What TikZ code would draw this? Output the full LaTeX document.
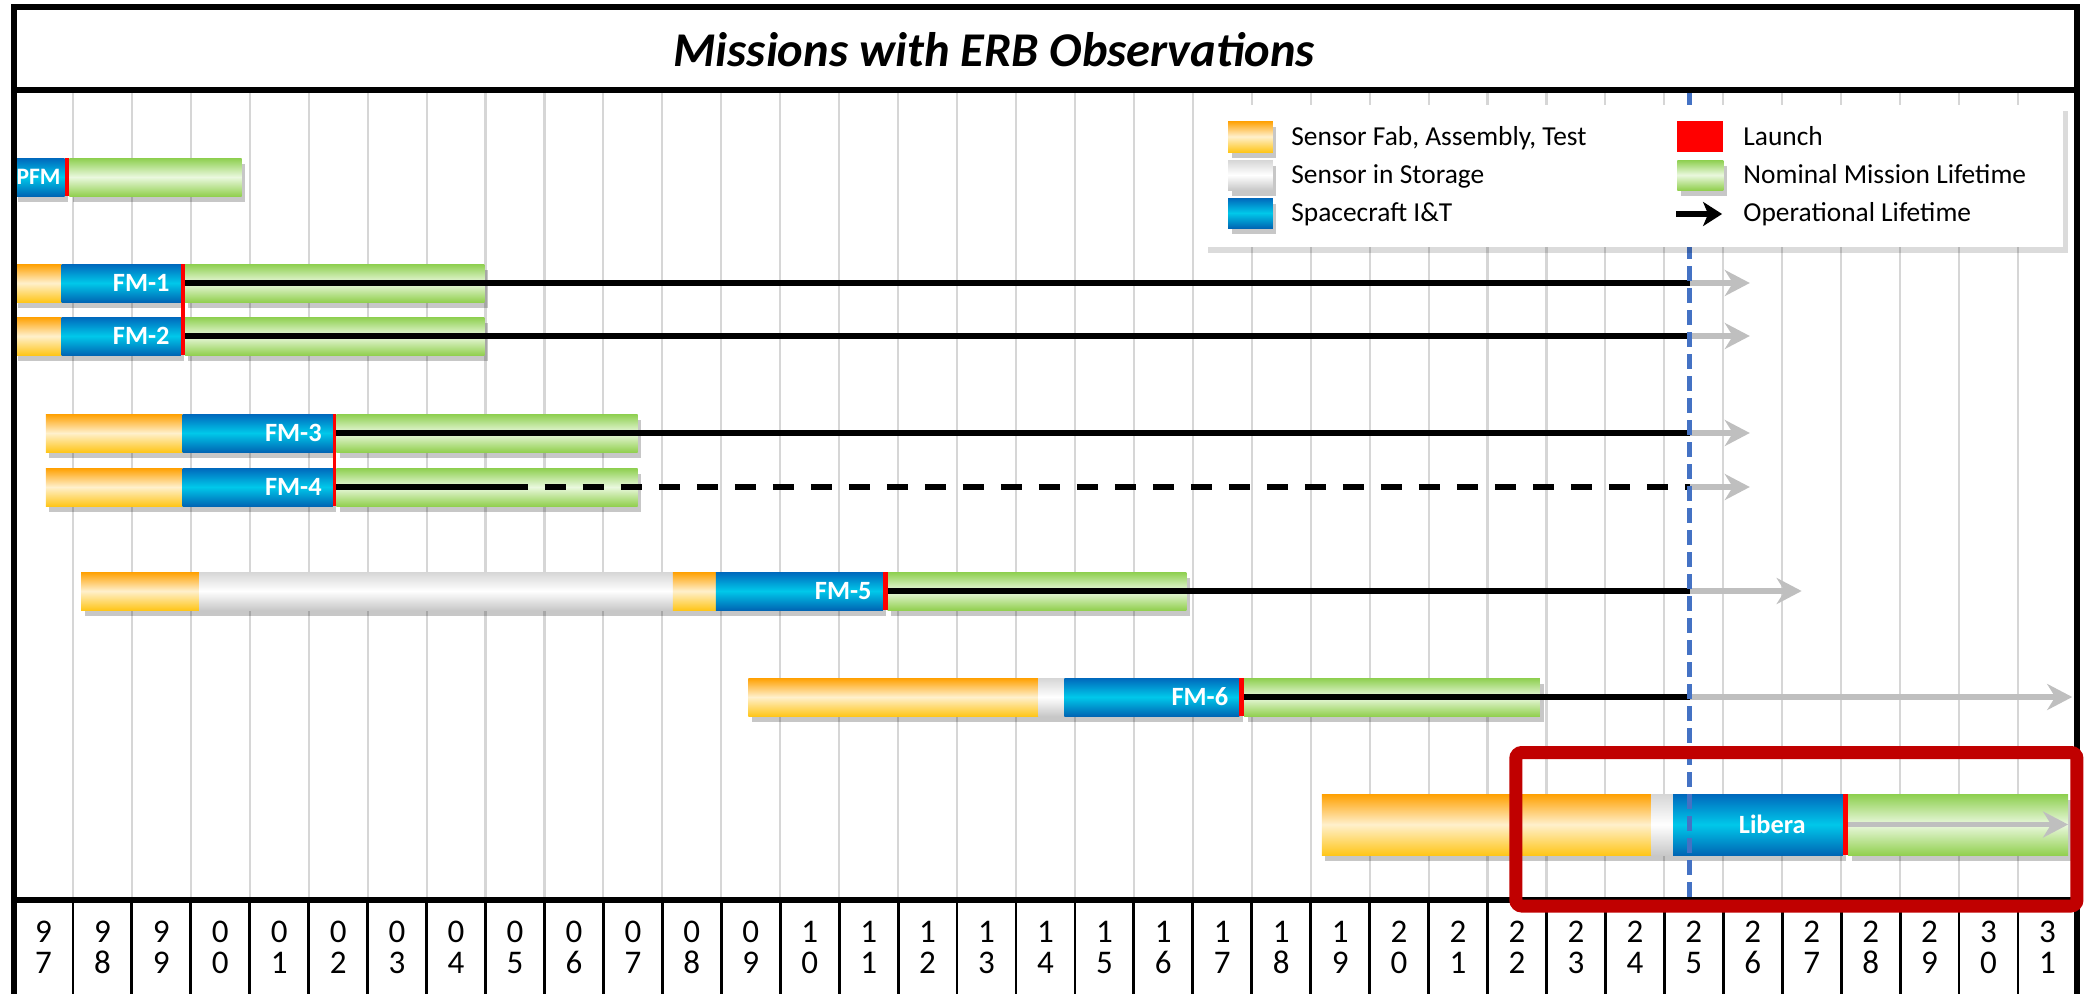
\documentclass[tikz,border=0pt]{standalone}
\usepackage{fontspec}
\setmainfont{Carlito}
\usetikzlibrary{arrows.meta,shadows}

\definecolor{fabtop}{HTML}{FFA000}
\definecolor{fabmid}{HTML}{FFF0CC}
\definecolor{fabbot}{HTML}{FFC61A}
\definecolor{stotop}{HTML}{D6D6D6}
\definecolor{stomid}{HTML}{FFFFFF}
\definecolor{stobot}{HTML}{C8C8C8}
\definecolor{sctop}{HTML}{0068BC}
\definecolor{scmid}{HTML}{00C8EA}
\definecolor{scbot}{HTML}{0066B4}
\definecolor{lftop}{HTML}{8DCF4E}
\definecolor{lfmid}{HTML}{EAF8DE}
\definecolor{lfbot}{HTML}{92D050}
\definecolor{launchred}{HTML}{FF0000}
\definecolor{gridgray}{HTML}{D6D6D6}
\definecolor{nowblue}{HTML}{4472C4}
\definecolor{boxred}{HTML}{C00000}
\definecolor{extgray}{HTML}{BFBFBF}

\tikzset{
  barshadow/.style={drop shadow={shadow xshift=1pt,shadow yshift=-1.6pt,opacity=0.22,fill=black}},
  fab/.style={top color=fabtop,bottom color=fabbot,middle color=fabmid,barshadow},
  store/.style={top color=stotop,bottom color=stobot,middle color=stomid,barshadow},
  sc/.style={top color=sctop,bottom color=scbot,middle color=scmid,barshadow},
  life/.style={top color=lftop,bottom color=lfbot,middle color=lfmid,barshadow},
  launch/.style={fill=launchred},
  oplife/.style={line width=1.6pt,black},
  opdash/.style={oplife,dash pattern=on 0.21cm off 0.17cm},
  opext/.style={line width=1.6pt,extgray,-{Stealth[length=0.25cm,width=0.26cm,inset=0.08cm]}},
  nowline/.style={line width=1.4pt,nowblue,dash pattern=on 0.15cm off 0.07cm},
  gridline/.style={gridgray,line width=0.6pt},
  frame/.style={line width=1.5pt,black},
  yearsep/.style={line width=0.8pt,black},
  hilite/.style={line width=3.7pt,boxred,rounded corners=0.06cm},
  legbox/.style={fill=white,drop shadow={shadow xshift=1.5pt,shadow yshift=-1.8pt,opacity=0.14,fill=black}},
  yearlab/.style={font=\fontsize{9.4}{8.8}\selectfont,align=center,inner sep=0pt},
  barlab/.style={font=\fontsize{7.5}{9}\selectfont\bfseries,text=white,anchor=east,inner sep=0pt,xshift=-3pt},
  legtext/.style={font=\fontsize{7.8}{9}\selectfont,anchor=base west,inner sep=0pt},
  titlelab/.style={font=\fontsize{13.8}{16}\selectfont\bfseries\itshape,inner sep=0pt}
}

\begin{document}
\begin{tikzpicture}[x=0.5894cm,y=-1cm]
  \useasboundingbox (-0.2375,0) rectangle (35.188,9.93);

  % year grid and year row
  \foreach \k in {1,...,34} {
    \draw[gridline] (\k,0.90) -- (\k,9.00);
    \draw[yearsep] (\k,9.00) -- (\k,10.00);
  }
  \foreach \k in {0,...,34} {
    \pgfmathtruncatemacro\yrnum{mod(97+\k,100)}
    \pgfmathtruncatemacro\yrhi{floor(\yrnum/10)}
    \pgfmathtruncatemacro\yrlo{mod(\yrnum,10)}
    \node[yearlab] (yr\k) at (\k+0.5,9.475) {\yrhi\\\yrlo};
  }

  \node[titlelab] (title) at (16.63,0.50) {Missions with ERB Observations};

  % PFM
  \path[sc] (0,1.58) rectangle (0.86,1.96);
  \path[life] (0.94,1.58) rectangle (3.86,1.96);
  \path[launch] (0.86,1.58) rectangle (0.94,1.96);
  \node[barlab,font=\fontsize{6.7}{8}\selectfont\bfseries,xshift=2pt] (pfmlab) at (0.86,1.77) {PFM};

  % FM-1 and FM-2
  \path[fab] (0,2.64) rectangle (0.81,3.02);
  \path[sc] (0.81,2.64) rectangle (2.83,3.02);
  \path[life] (2.90,2.64) rectangle (7.98,3.02);
  \path[fab] (0,3.17) rectangle (0.81,3.55);
  \path[sc] (0.81,3.17) rectangle (2.83,3.55);
  \path[life] (2.90,3.17) rectangle (7.98,3.55);
  \path[launch] (2.83,2.64) rectangle (2.90,3.55);
  \node[barlab] (fm1lab) at (2.83,2.83) {FM-1};
  \node[barlab] (fm2lab) at (2.83,3.36) {FM-2};

  % FM-3 and FM-4
  \path[fab] (0.54,4.14) rectangle (2.86,4.52);
  \path[sc] (2.86,4.14) rectangle (5.41,4.52);
  \path[life] (5.47,4.14) rectangle (10.58,4.52);
  \path[fab] (0.54,4.68) rectangle (2.86,5.06);
  \path[sc] (2.86,4.68) rectangle (5.41,5.06);
  \path[life] (5.47,4.68) rectangle (10.58,5.06);
  \path[launch] (5.41,4.14) rectangle (5.47,5.06);
  \node[barlab] (fm3lab) at (5.41,4.33) {FM-3};
  \node[barlab] (fm4lab) at (5.41,4.87) {FM-4};

  % FM-5
  \path[fab] (1.14,5.72) rectangle (3.14,6.10);
  \path[store] (3.14,5.72) rectangle (11.18,6.10);
  \path[fab] (11.18,5.72) rectangle (11.91,6.10);
  \path[sc] (11.91,5.72) rectangle (14.74,6.10);
  \path[life] (14.82,5.72) rectangle (19.89,6.10);
  \path[launch] (14.74,5.72) rectangle (14.82,6.10);
  \node[barlab] (fm5lab) at (14.74,5.91) {FM-5};

  % FM-6
  \path[fab] (12.46,6.78) rectangle (17.38,7.16);
  \path[store] (17.38,6.78) rectangle (17.82,7.16);
  \path[sc] (17.82,6.78) rectangle (20.79,7.16);
  \path[life] (20.87,6.78) rectangle (25.89,7.16);
  \path[launch] (20.79,6.78) rectangle (20.87,7.16);
  \node[barlab] (fm6lab) at (20.79,6.97) {FM-6};

  % Libera
  \path[fab] (22.19,7.94) rectangle (27.78,8.55);
  \path[store] (27.78,7.94) rectangle (28.15,8.55);
  \path[sc] (28.15,7.94) rectangle (31.03,8.55);
  \path[life] (31.12,7.94) rectangle (34.85,8.55);
  \path[launch] (31.03,7.94) rectangle (31.12,8.55);
  \node[barlab,xshift=-0.26cm] (liblab) at (31.03,8.245) {Libera};

  % operational lifetime
  \coordinate (now) at (28.43,0.90);
  \coordinate (nowbot) at (28.43,9.00);
  \coordinate (fm1) at (2.90,2.83);
  \coordinate (fm2) at (2.90,3.36);
  \coordinate (fm3) at (5.47,4.33);
  \coordinate (fm4) at (5.47,4.87);
  \coordinate (fm4d) at (8.36,4.87);
  \coordinate (fm5) at (14.82,5.91);
  \coordinate (fm6) at (20.87,6.97);
  \coordinate (lib) at (31.12,8.245);
  \coordinate (fm1e) at (29.45,2.83);
  \coordinate (fm2e) at (29.45,3.36);
  \coordinate (fm3e) at (29.45,4.33);
  \coordinate (fm4e) at (29.45,4.87);
  \coordinate (fm5e) at (30.33,5.91);
  \coordinate (fm6e) at (34.92,6.97);
  \coordinate (libe) at (34.85,8.245);
  \foreach \m in {fm1,fm2,fm3,fm5,fm6}
    \draw[oplife] (\m) -- (\m -| now);
  \draw[oplife] (fm4) -- (fm4d);
  \draw[opdash] (fm4d) -- (fm4 -| now);
  \foreach \m in {fm1,fm2,fm3,fm4,fm5,fm6}
    \draw[opext] (\m -| now) -- (\m e);
  \draw[opext] (lib) -- (libe);

  \draw[nowline] (now) -- (nowbot);

  % legend
  \path[legbox] (20.17,1.05) rectangle (34.76,2.47);
  \path[fab,drop shadow={opacity=0}] (20.60,1.21) rectangle (21.36,1.52);
  \path[store,drop shadow={opacity=0}] (20.60,1.60) rectangle (21.36,1.90);
  \path[sc,drop shadow={opacity=0}] (20.60,1.98) rectangle (21.36,2.28);
  \path[launch] (28.22,1.21) rectangle (29.00,1.52);
  \path[life,drop shadow={opacity=0}] (28.22,1.60) rectangle (29.00,1.90);
  \coordinate (lga) at (28.20,2.14);
  \coordinate (lgb) at (28.98,2.14);
  \draw[line width=1.5pt,-{Stealth[length=0.19cm,width=0.24cm,inset=0.05cm]}] (lga) -- (lgb);
  \node[legtext] (lg1) at (21.66,1.45) {Sensor Fab, Assembly, Test};
  \node[legtext] (lg2) at (21.66,1.835) {Sensor in Storage};
  \node[legtext] (lg3) at (21.66,2.215) {Spacecraft I\&T};
  \node[legtext] (lg4) at (29.33,1.45) {Launch};
  \node[legtext] (lg5) at (29.33,1.835) {Nominal Mission Lifetime};
  \node[legtext] (lg6) at (29.33,2.215) {Operational Lifetime};

  % frame
  \draw[frame] (0,10.00) -- (0,0.07) -- (35.0,0.07) -- (35.0,10.00);
  \draw[frame] (0,0.90) -- (35.0,0.90);
  \draw[frame] (0,9.00) -- (35.0,9.00);

  \draw[hilite] (25.48,7.525) rectangle (35.0,9.06);
\end{tikzpicture}
\end{document}
